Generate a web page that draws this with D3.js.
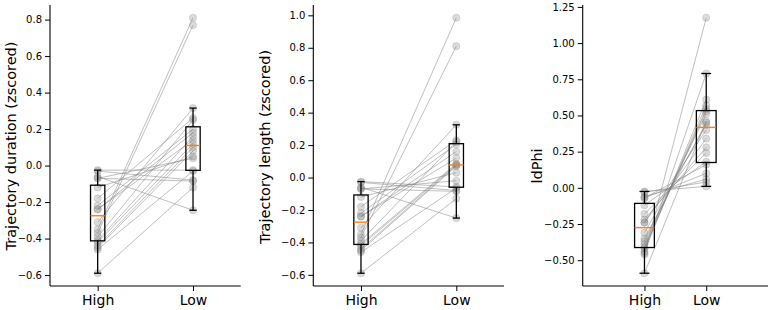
<!DOCTYPE html>
<html>
<head>
<meta charset="utf-8">
<script src="https://cdn.jsdelivr.net/npm/d3@7"></script>
<style>
  html, body { margin: 0; padding: 0; background: #fff; }
  svg { display: block; font-family: "DejaVu Sans", sans-serif; }
</style>
</head>
<body>
<svg id="chart" width="772" height="310"></svg>
<script>
// ---- data (one entry per subject, same order in every array) ----
const conditions = ["High", "Low"];
const highValues = [-0.025, -0.03, -0.06, -0.07, -0.07, -0.12, -0.18, -0.22, -0.24, -0.24,
                    -0.31, -0.35, -0.37, -0.39, -0.41, -0.42, -0.44, -0.45, -0.46, -0.59];
const durationLow = [-0.025, -0.08, -0.245, 0.04, -0.085, 0.05, 0.26, 0.20, 0.18, 0.14,
                     0.315, 0.81, 0.77, 0.25, 0.16, 0.12, 0.10, 0.08, -0.03, -0.12];
const lengthLow = [-0.058, -0.08, -0.25, -0.02, -0.085, 0.03, 0.23, 0.205, 0.16, 0.12,
                   0.325, 0.985, 0.81, 0.22, 0.085, 0.08, 0.075, 0.07, -0.065, -0.13];
const ldPhiLow = [0.01, 0.04, 0.06, 0.10, 0.16, 0.18, 0.24, 0.28, 0.34, 0.40,
                  0.435, 0.45, 0.51, 0.53, 0.545, 0.57, 0.61, 0.79, 1.175, 0.46];
const yLabels = ["Trajectory duration (zscored)", "Trajectory length (zscored)", "ldPhi"];
const durationTicks = [-0.6, -0.4, -0.2, 0.0, 0.2, 0.4, 0.6, 0.8];
const lengthTicks = [-0.6, -0.4, -0.2, 0.0, 0.2, 0.4, 0.6, 0.8, 1.0];
const ldPhiTicks = [-0.5, -0.25, 0.0, 0.25, 0.5, 0.75, 1.0, 1.25];

// ---- layout ----
const panels = [
  { high: highValues, low: durationLow, label: yLabels[0], ticks: durationTicks, fmt: ".1f",
    left: 50, right: 240.7, xlim: [0.5, 2.5], boxW: 0.15, labelX: 11, labelY: 146 },
  { high: highValues, low: lengthLow, label: yLabels[1], ticks: lengthTicks, fmt: ".1f",
    left: 313.3, right: 504, xlim: [0.5, 2.5], boxW: 0.15, labelX: 265, labelY: 147 },
  { high: highValues, low: ldPhiLow, label: yLabels[2], ticks: ldPhiTicks, fmt: ".2f",
    left: 582.7, right: 768, xlim: [0, 3], boxW: 0.32, labelX: 537, labelY: 166 }
];
const plotTop = 5, plotBottom = 286;
const svg = d3.select("#chart");
const minus = s => s.replace("-", "\u2212");

panels.forEach(p => {
  const all = p.high.concat(p.low);
  const [mn, mx] = d3.extent(all);
  const pad = (mx - mn) * 0.05;
  const y = d3.scaleLinear().domain([mn - pad, mx + pad]).range([plotBottom, plotTop]);
  const x = d3.scaleLinear().domain(p.xlim).range([p.left, p.right]);
  const xPos = { High: 1, Low: 2 };
  const g = svg.append("g");

  // paired lines
  g.selectAll("line.pair").data(p.high.map((h, i) => [h, p.low[i]])).join("line")
    .attr("x1", x(xPos.High)).attr("x2", x(xPos.Low))
    .attr("y1", d => y(d[0])).attr("y2", d => y(d[1]))
    .attr("stroke", "#808080").attr("stroke-opacity", 0.5).attr("stroke-width", 1);

  // points
  conditions.forEach(c => {
    const vals = c === "High" ? p.high : p.low;
    g.selectAll(null).data(vals).join("circle")
      .attr("cx", x(xPos[c])).attr("cy", d => y(d)).attr("r", 3.6)
      .attr("fill", "#808080").attr("fill-opacity", 0.28)
      .attr("stroke", "#808080").attr("stroke-opacity", 0.3).attr("stroke-width", 0.8);
  });

  // boxplots
  conditions.forEach(c => {
    const vals = (c === "High" ? p.high : p.low).slice().sort(d3.ascending);
    const q1 = d3.quantile(vals, 0.25), med = d3.quantile(vals, 0.5), q3 = d3.quantile(vals, 0.75);
    const iqr = q3 - q1;
    const wLo = d3.min(vals.filter(v => v >= q1 - 1.5 * iqr));
    const wHi = d3.max(vals.filter(v => v <= q3 + 1.5 * iqr));
    const cx = xPos[c];
    const hw = p.boxW / 2;
    const bg = g.append("g").attr("stroke", "#000").attr("stroke-width", 1.3).attr("fill", "none");
    bg.append("line").attr("x1", x(cx)).attr("x2", x(cx)).attr("y1", y(q1)).attr("y2", y(wLo));
    bg.append("line").attr("x1", x(cx)).attr("x2", x(cx)).attr("y1", y(q3)).attr("y2", y(wHi));
    bg.append("line").attr("x1", x(cx - hw / 2)).attr("x2", x(cx + hw / 2)).attr("y1", y(wLo)).attr("y2", y(wLo));
    bg.append("line").attr("x1", x(cx - hw / 2)).attr("x2", x(cx + hw / 2)).attr("y1", y(wHi)).attr("y2", y(wHi));
    bg.append("rect").attr("x", x(cx - hw)).attr("width", x(cx + hw) - x(cx - hw))
      .attr("y", y(q3)).attr("height", y(q1) - y(q3));
    g.append("line").attr("x1", x(cx - hw)).attr("x2", x(cx + hw)).attr("y1", y(med)).attr("y2", y(med))
      .attr("stroke", "#ff7f0e").attr("stroke-width", 1.4);
  });

  // axes
  const yAxis = d3.axisLeft(y).tickValues(p.ticks).tickSize(5).tickPadding(3)
    .tickFormat(d => minus(d3.format(p.fmt)(d)));
  const ya = svg.append("g").attr("transform", `translate(${p.left},0)`).call(yAxis);
  ya.select(".domain").attr("d", `M0,${plotTop}V${plotBottom}`).attr("stroke", "#000").attr("stroke-width", 1.1);
  ya.selectAll(".tick line").attr("stroke", "#000").attr("stroke-width", 1);
  ya.selectAll(".tick text").attr("font-size", 10).attr("font-family", "DejaVu Sans").attr("fill", "#000");

  const xAxis = d3.axisBottom(x).tickValues([1, 2]).tickSize(5).tickPadding(4)
    .tickFormat((d, i) => conditions[i]);
  const xa = svg.append("g").attr("transform", `translate(0,${plotBottom})`).call(xAxis);
  xa.select(".domain").attr("d", `M${p.left},0H${p.right}`).attr("stroke", "#000").attr("stroke-width", 1.1);
  xa.selectAll(".tick line").attr("stroke", "#000");
  xa.selectAll(".tick text").attr("font-size", 14).attr("font-family", "DejaVu Sans").attr("fill", "#000");

  svg.append("text").attr("transform", `translate(${p.labelX},${p.labelY}) rotate(-90)`)
    .attr("text-anchor", "middle").attr("dominant-baseline", "central")
    .attr("font-size", 14.5).attr("fill", "#000").text(p.label);
});
</script>
</body>
</html>
